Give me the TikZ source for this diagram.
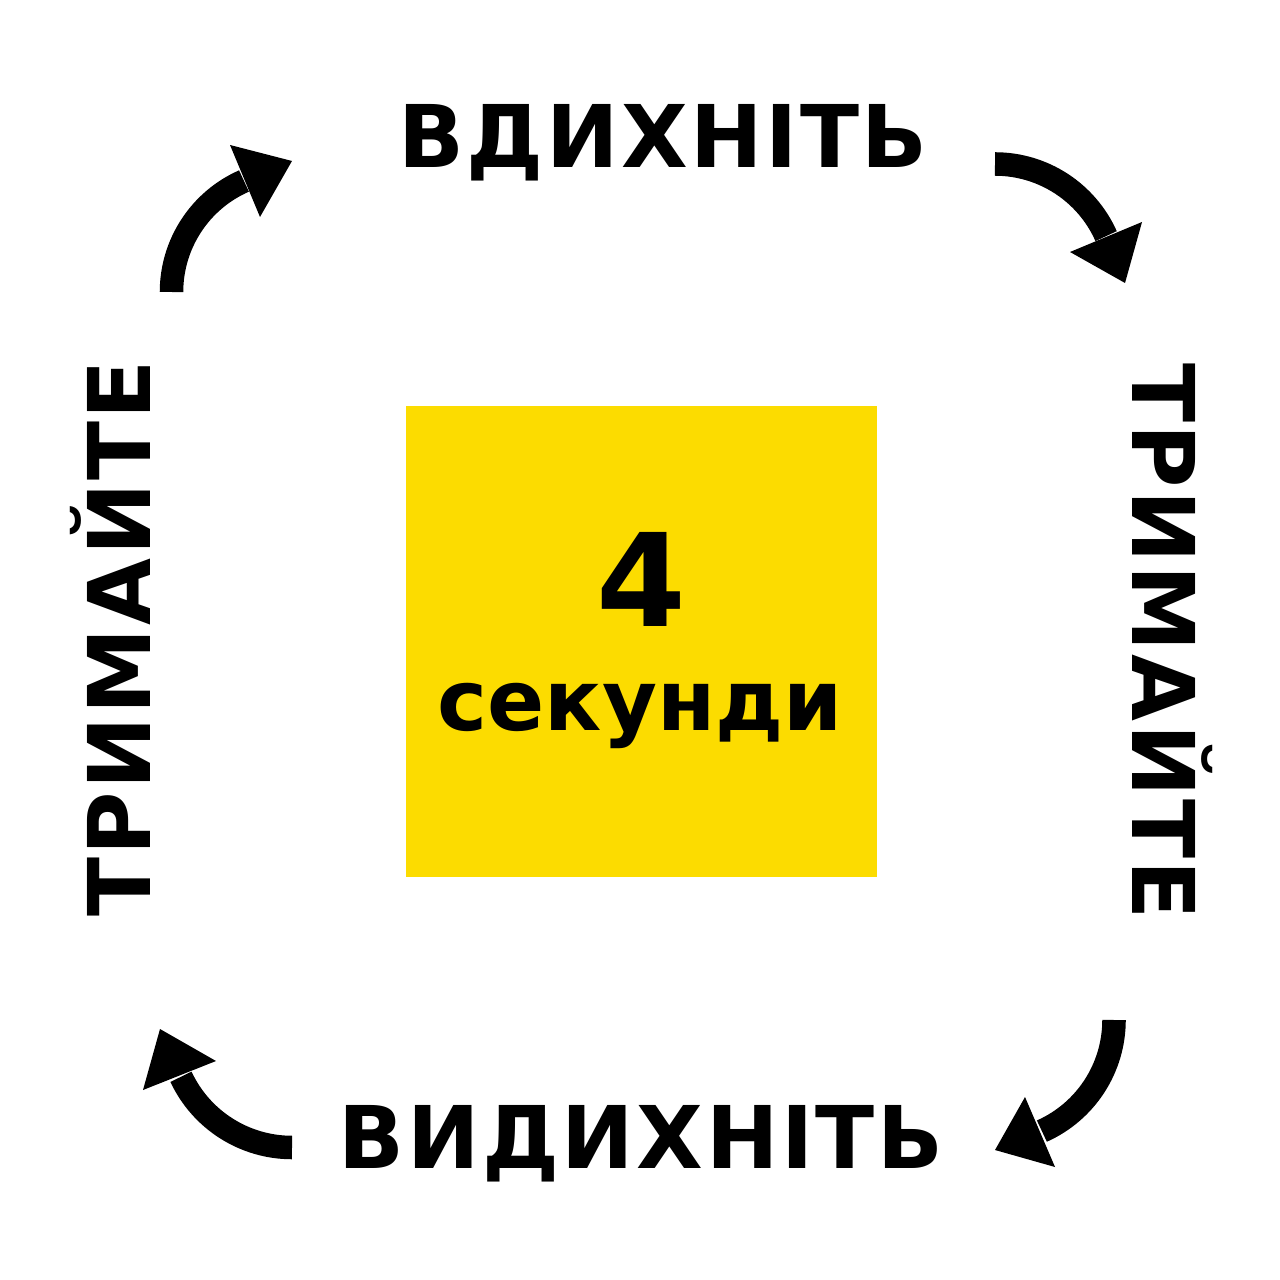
\documentclass[tikz,border=0pt]{standalone}
\usepackage{fontspec}
\setmainfont{DejaVu Sans}
\newfontfamily\spacedfont[LetterSpace=3.0]{DejaVu Sans}
\definecolor{boxyellow}{RGB}{252,220,0}
\begin{document}
\begin{tikzpicture}[x=0.01cm,y=-0.01cm,
  lbl/.style={inner sep=0pt, anchor=base, font=\spacedfont\fontsize{24.6pt}{28pt}\selectfont\bfseries},
  curvearrow/.style={line width=0.235cm, black},
  arrowhead/.style={fill=black, draw=none}]
\useasboundingbox (0,0) rectangle (1280,1280);
\fill[white] (0,0) rectangle (1280,1280);
% yellow square
\node[fill=boxyellow, minimum width=4.71cm, minimum height=4.71cm, inner sep=0pt, anchor=north west] (box) at (405,405) {};
\node[inner sep=0pt, anchor=base, font=\fontsize{36.7pt}{40pt}\selectfont\bfseries] (four) at (641,627) {4};
\node[inner sep=0pt, anchor=base, font=\fontsize{24pt}{30pt}\selectfont\bfseries] (sec) at (640,730) {секунди};
% labels
\node[lbl] (inhale) at (663,168) {ВДИХНІТЬ};
\node[lbl] (exhale) at (641,1168) {ВИДИХНІТЬ};
\node[lbl, rotate=90] (holdL) at (150,638.5) {ТРИМАЙТЕ};
\node[lbl, rotate=-90] (holdR) at (1132,641.5) {ТРИМАЙТЕ};
% arrows
\draw[curvearrow] (171.5,292) arc[start angle=180, end angle=246.3, radius=121.2];
\fill[arrowhead] (230,145) -- (292,161) -- (260,217) -- cycle;
\draw[curvearrow] (995,164) arc[start angle=270, end angle=336, radius=121.6];
\fill[arrowhead] (1070,252) -- (1125,283) -- (1142,222) -- cycle;
\draw[curvearrow] (1114,1020) arc[start angle=0, end angle=66, radius=121.6];
\fill[arrowhead] (1025,1097) -- (995,1150) -- (1055,1167) -- cycle;
\draw[curvearrow] (292,1147.5) arc[start angle=90, end angle=155, radius=122.5];
\fill[arrowhead] (143,1090) -- (160,1029) -- (216,1061) -- cycle;
\end{tikzpicture}
\end{document}
